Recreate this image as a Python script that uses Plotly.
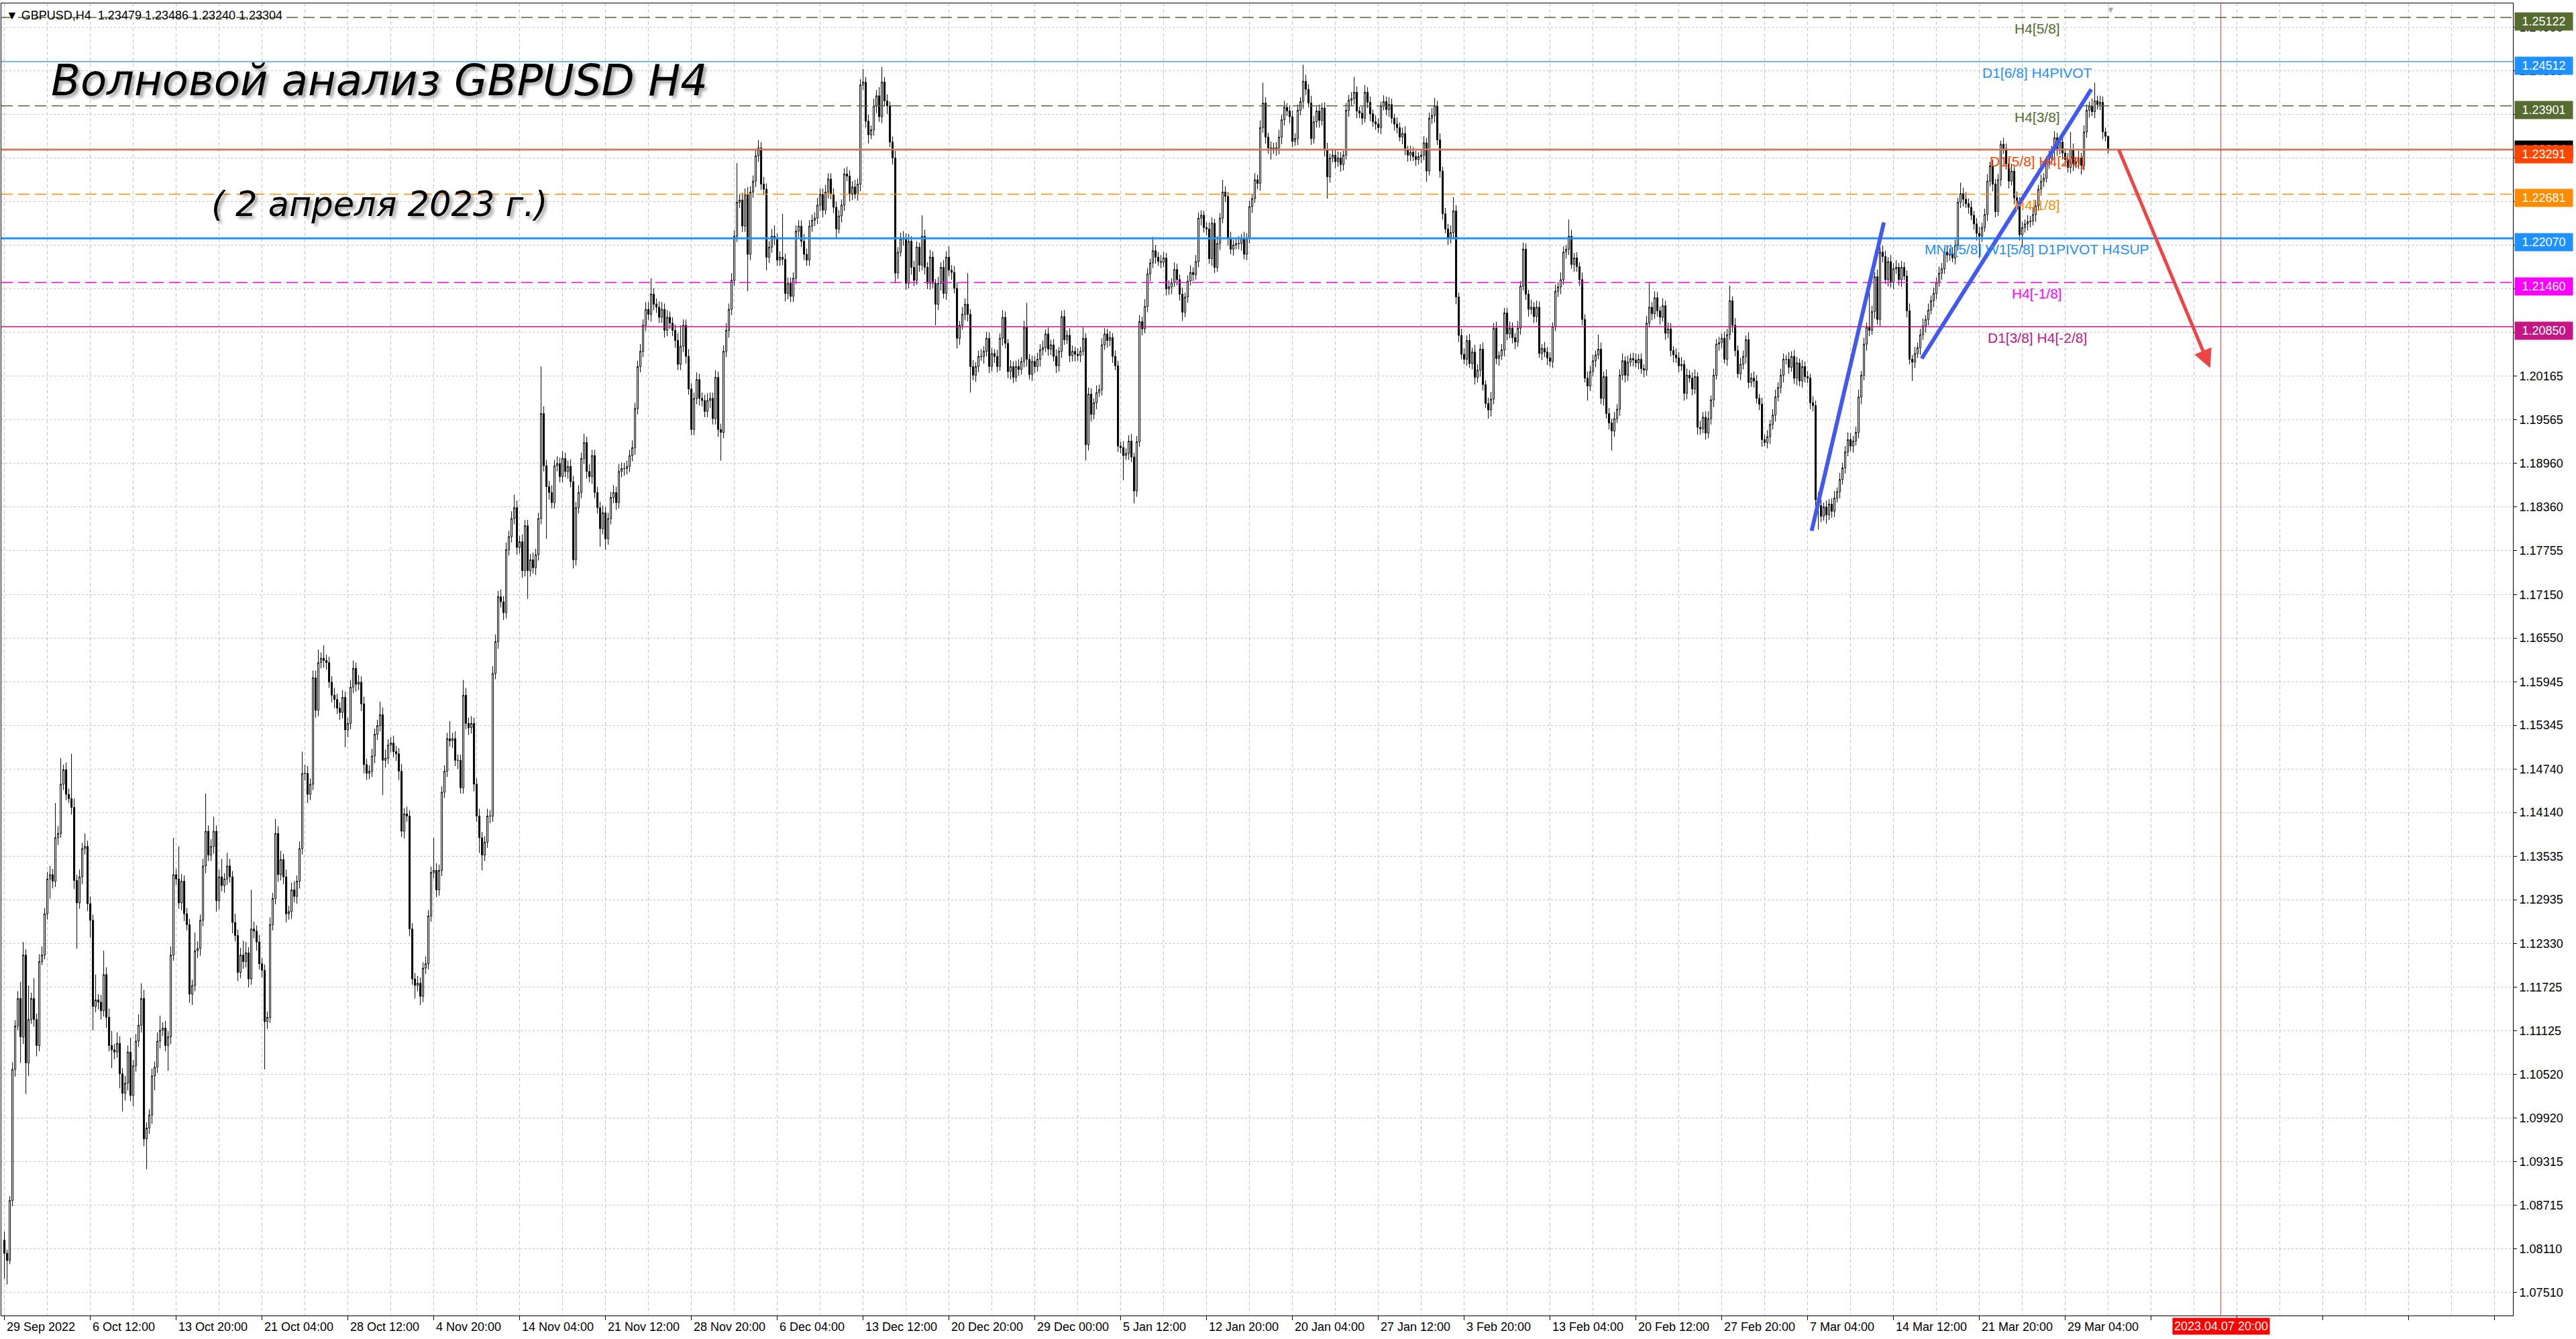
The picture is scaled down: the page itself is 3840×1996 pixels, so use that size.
import plotly.graph_objects as go

# ---------------- data (prices in 1e-4 units, H4 bars, index 0 = 29 Sep 2022 04:00) ----------------
FIRST_OPEN = 10823

CLOSE_A = [  # bars 0-191
    10805, 10795, 10878, 11059, 11119, 11157, 11104, 11217, 11068, 11128, 11157, 11128, 11092, 11208, 11217, 11274,
    11322, 11328, 11319, 11379, 11385, 11453, 11473, 11439, 11433, 11421, 11320, 11289, 11325, 11364, 11367, 11288,
    11265, 11146, 11155, 11152, 11140, 11190, 11131, 11092, 11086, 11083, 11095, 11053, 11026, 11040, 11083, 11023,
    11064, 11098, 11120, 11157, 10963, 10978, 10996, 11050, 11062, 11098, 11113, 11116, 11092, 11104, 11217, 11328,
    11322, 11289, 11319, 11274, 11259, 11163, 11175, 11223, 11226, 11265, 11340, 11388, 11355, 11367, 11388, 11292,
    11325, 11313, 11322, 11340, 11325, 11262, 11244, 11193, 11217, 11208, 11220, 11184, 11253, 11250, 11235, 11205,
    11196, 11125, 11131, 11259, 11295, 11385, 11328, 11349, 11325, 11274, 11277, 11307, 11298, 11319, 11364, 11468,
    11468, 11439, 11453, 11600, 11555, 11621, 11627, 11624, 11621, 11594, 11576, 11570, 11558, 11552, 11573, 11528,
    11537, 11587, 11613, 11591, 11594, 11564, 11480, 11468, 11471, 11492, 11522, 11534, 11549, 11486, 11489, 11507,
    11510, 11498, 11495, 11471, 11388, 11412, 11409, 11253, 11184, 11175, 11178, 11160, 11199, 11205, 11271, 11331,
    11334, 11307, 11334, 11442, 11471, 11516, 11513, 11516, 11486, 11486, 11448, 11576, 11537, 11531, 11537, 11453,
    11409, 11379, 11355, 11373, 11409, 11409, 11606, 11650, 11712, 11705, 11690, 11777, 11795, 11820, 11835, 11780,
]
CLOSE_B = [  # bars 192-383
    11788, 11748, 11810, 11748, 11763, 11752, 11770, 11820, 11965, 11893, 11864, 11856, 11842, 11893, 11896, 11878,
    11903, 11885, 11892, 11871, 11763, 11835, 11856, 11903, 11925, 11885, 11878, 11907, 11856, 11835, 11806, 11828,
    11792, 11820, 11849, 11856, 11842, 11885, 11889, 11889, 11892, 11907, 11918, 11972, 12030, 12051, 12087, 12109,
    12102, 12130, 12116, 12112, 12098, 12109, 12080, 12098, 12090, 12080, 12066, 12033, 12058, 12087, 12044, 11999,
    11943, 11986, 12012, 11986, 11983, 11968, 11983, 11986, 11958, 12015, 11943, 11939, 12051, 12080, 12109, 12149,
    12210, 12257, 12260, 12224, 12268, 12185, 12271, 12286, 12321, 12332, 12282, 12275, 12181, 12195, 12210, 12206,
    12177, 12181, 12178, 12131, 12145, 12127, 12152, 12217, 12224, 12203, 12185, 12177, 12224, 12232, 12235, 12253,
    12268, 12246, 12271, 12289, 12268, 12250, 12220, 12238, 12253, 12296, 12293, 12268, 12278, 12268, 12282, 12419,
    12423, 12369, 12350, 12357, 12390, 12404, 12375, 12423, 12397, 12390, 12340, 12318, 12159, 12188, 12206, 12206,
    12145, 12203, 12167, 12149, 12195, 12170, 12210, 12167, 12145, 12181, 12145, 12116, 12145, 12167, 12131, 12181,
    12163, 12160, 12138, 12069, 12087, 12102, 12116, 12102, 12030, 12018, 12030, 12044, 12044, 12051, 12069, 12030,
    12048, 12044, 12030, 12069, 12098, 12062, 12023, 12030, 12015, 12030, 12026, 12037, 12084, 12040, 12019, 12037,
]
CLOSE_C = [  # bars 384-591
    12030, 12040, 12053, 12056, 12075, 12054, 12060, 12044, 12031, 12051, 12099, 12067, 12073, 12045, 12051, 12047,
    12045, 12051, 12069, 11922, 11992, 11964, 11980, 11994, 11998, 12060, 12075, 12066, 12070, 12044, 12031, 11920,
    11918, 11907, 11910, 11927, 11905, 11858, 11926, 12092, 12082, 12113, 12158, 12173, 12190, 12181, 12175, 12174,
    12180, 12137, 12140, 12146, 12164, 12150, 12130, 12105, 12126, 12148, 12160, 12157, 12175, 12235, 12239, 12222,
    12220, 12179, 12228, 12167, 12200, 12235, 12271, 12265, 12207, 12192, 12198, 12200, 12200, 12207, 12185, 12207,
    12251, 12262, 12288, 12283, 12360, 12394, 12347, 12332, 12330, 12332, 12330, 12347, 12371, 12388, 12383, 12375,
    12341, 12345, 12384, 12396, 12424, 12413, 12394, 12345, 12368, 12383, 12370, 12387, 12329, 12292, 12318, 12322,
    12313, 12318, 12309, 12322, 12384, 12398, 12400, 12409, 12383, 12380, 12373, 12409, 12395, 12379, 12368, 12365,
    12360, 12390, 12396, 12385, 12392, 12373, 12365, 12360, 12347, 12352, 12329, 12322, 12326, 12320, 12316, 12320,
    12322, 12339, 12300, 12373, 12377, 12390, 12343, 12300, 12241, 12220, 12207, 12215, 12245, 12126, 12073, 12047,
    12040, 12066, 12034, 12050, 12015, 12025, 12054, 12005, 11979, 11970, 11985, 12083, 12041, 12045, 12053, 12104,
    12075, 12083, 12070, 12064, 12083, 12141, 12192, 12130, 12109, 12112, 12099, 12112, 12048, 12055, 12050, 12042,
    12037, 12085, 12134, 12140, 12150, 12188, 12192, 12210, 12171, 12180, 12168, 12150, 12095, 12014, 12003, 12023,
]
CLOSE_D = [  # bars 592-784
    12038, 12046, 12054, 11986, 12016, 11965, 11952, 11941, 11958, 11971, 12018, 12038, 12018, 12036, 12041, 12039,
    12035, 12040, 12027, 12025, 12090, 12112, 12103, 12125, 12107, 12098, 12114, 12076, 12082, 12052, 12046, 12042,
    12031, 12033, 11993, 12018, 12014, 11999, 12016, 11946, 11944, 11960, 11938, 11958, 11984, 12018, 12061, 12063,
    12069, 12040, 12074, 12121, 12087, 12052, 12020, 12033, 12044, 12067, 12008, 12014, 12010, 11986, 11978, 11929,
    11925, 11933, 11950, 11963, 11988, 12001, 12018, 12040, 12040, 12029, 12044, 12014, 12035, 12010, 12030, 12016,
    12014, 11980, 11976, 11846, 11838, 11823, 11836, 11825, 11840, 11830, 11848, 11857, 11874, 11890, 11912, 11929,
    11920, 11927, 11939, 11988, 12018, 12061, 12084, 12080, 12106, 12154, 12095, 12188, 12182, 12150, 12175, 12146,
    12165, 12167, 12150, 12167, 12155, 12107, 12040, 12036, 12048, 12056, 12074, 12086, 12095, 12108, 12121, 12131,
    12146, 12159, 12165, 12188, 12184, 12186, 12180, 12197, 12257, 12269, 12261, 12255, 12250, 12239, 12227, 12214,
    12210, 12222, 12240, 12286, 12307, 12282, 12244, 12288, 12337, 12331, 12310, 12286, 12300, 12263, 12257, 12212,
    12222, 12227, 12230, 12231, 12240, 12252, 12275, 12286, 12290, 12312, 12318, 12329, 12346, 12329, 12340, 12325,
    12316, 12305, 12330, 12310, 12312, 12318, 12308, 12354, 12384, 12390, 12382, 12397, 12392, 12395, 12354, 12348,
    12330,
]

# upper / lower shadows in pips
WICK_UP_A = [
    12, 5, 6, 10, 8, 10, 23, 18, 8, 47, 8, 28, 8, 10, 12, 8,
    10, 12, 8, 48, 10, 36, 7, 10, 8, 62, 12, 8, 10, 8, 18, 8,
    10, 8, 35, 8, 10, 33, 10, 12, 20, 8, 15, 10, 8, 10, 9, 20,
    8, 10, 15, 21, 12, 8, 8, 10, 8, 12, 20, 8, 10, 8, 12, 51,
    8, 45, 10, 8, 8, 8, 8, 25, 10, 8, 10, 52, 8, 10, 20, 8,
    10, 25, 8, 18, 10, 8, 12, 8, 10, 20, 15, 8, 54, 10, 8, 10,
    8, 8, 8, 10, 8, 20, 10, 12, 8, 10, 8, 10, 12, 8, 10, 30,
    12, 10, 8, 10, 10, 18, 8, 18, 8, 8, 8, 10, 8, 8, 10, 8,
    8, 10, 11, 8, 10, 8, 10, 8, 8, 10, 8, 8, 18, 10, 12, 8,
    8, 10, 8, 8, 10, 8, 10, 8, 8, 8, 10, 8, 8, 10, 8, 8,
    45, 10, 8, 8, 8, 8, 24, 8, 10, 8, 8, 21, 10, 8, 10, 8,
    8, 10, 8, 8, 10, 8, 10, 10, 8, 10, 8, 10, 8, 10, 18, 10,
]
WICK_DN_A = [
    35, 33, 5, 8, 10, 6, 36, 10, 43, 18, 6, 10, 15, 8, 5, 6,
    8, 27, 10, 8, 10, 6, 8, 8, 6, 10, 12, 63, 8, 10, 8, 10,
    24, 33, 8, 10, 12, 8, 15, 8, 25, 10, 8, 20, 25, 10, 10, 8,
    15, 8, 8, 10, 10, 42, 8, 12, 20, 8, 10, 8, 8, 35, 10, 8,
    8, 8, 10, 10, 8, 12, 15, 8, 10, 10, 8, 10, 8, 8, 10, 15,
    12, 8, 10, 8, 8, 15, 8, 12, 8, 10, 8, 12, 8, 10, 12, 8,
    10, 66, 10, 8, 8, 8, 10, 8, 10, 12, 8, 10, 8, 10, 10, 8,
    10, 12, 8, 8, 10, 8, 8, 10, 10, 8, 10, 12, 8, 10, 8, 24,
    10, 8, 8, 10, 8, 10, 12, 9, 8, 8, 10, 8, 8, 48, 10, 8,
    10, 8, 10, 12, 8, 10, 8, 10, 8, 18, 8, 12, 8, 8, 8, 8,
    8, 10, 8, 8, 8, 8, 8, 10, 8, 12, 8, 8, 8, 10, 8, 10,
    8, 21, 21, 8, 8, 10, 8, 8, 10, 8, 10, 8, 8, 8, 8, 10,
]
WICK_UP_B = [
    8, 10, 8, 8, 8, 10, 8, 8, 65, 10, 8, 8, 10, 8, 10, 8,
    10, 8, 8, 10, 8, 8, 10, 8, 12, 8, 10, 8, 8, 8, 8, 10,
    8, 8, 8, 10, 8, 10, 8, 8, 8, 8, 10, 8, 8, 10, 8, 10,
    10, 22, 8, 8, 8, 10, 8, 10, 8, 8, 8, 10, 29, 8, 8, 10,
    8, 8, 10, 8, 8, 8, 10, 8, 8, 10, 8, 8, 8, 10, 8, 10,
    8, 54, 8, 10, 8, 10, 8, 8, 10, 11, 8, 10, 8, 8, 10, 15,
    8, 8, 60, 8, 8, 8, 8, 8, 8, 8, 10, 8, 8, 8, 8, 10,
    8, 8, 10, 8, 8, 8, 8, 8, 8, 8, 10, 8, 8, 10, 8, 8,
    18, 7, 9, 6, 10, 8, 12, 21, 7, 9, 6, 8, 10, 7, 9, 11,
    8, 10, 7, 9, 8, 6, 29, 9, 7, 10, 8, 6, 9, 7, 10, 8,
    15, 7, 9, 8, 6, 10, 8, 43, 7, 9, 6, 8, 10, 7, 9, 8,
    8, 6, 9, 7, 10, 8, 6, 9, 7, 8, 10, 6, 9, 34, 7, 8,
]
WICK_DN_B = [
    8, 10, 8, 39, 8, 8, 10, 8, 8, 8, 72, 10, 8, 8, 8, 8,
    8, 8, 10, 8, 12, 8, 8, 8, 8, 10, 8, 10, 8, 8, 25, 8,
    15, 8, 8, 8, 10, 8, 8, 10, 8, 8, 8, 10, 8, 8, 8, 8,
    8, 10, 8, 8, 8, 8, 10, 8, 8, 8, 10, 8, 8, 8, 10, 8,
    8, 8, 8, 10, 8, 8, 8, 10, 8, 8, 10, 39, 8, 8, 10, 8,
    8, 8, 8, 8, 8, 51, 8, 8, 8, 8, 8, 8, 18, 8, 8, 8,
    8, 8, 8, 11, 8, 8, 8, 8, 8, 8, 8, 8, 8, 8, 8, 8,
    8, 10, 6, 9, 7, 8, 12, 6, 9, 8, 7, 10, 8, 6, 9, 10,
    7, 9, 12, 6, 8, 10, 7, 9, 8, 11, 7, 9, 14, 8, 6, 9,
    9, 7, 10, 8, 6, 9, 7, 10, 8, 9, 7, 29, 8, 10, 7, 9,
    8, 10, 7, 14, 9, 6, 8, 10, 36, 7, 9, 8, 6, 10, 7, 9,
    7, 9, 8, 6, 10, 7, 9, 11, 8, 6, 9, 7, 8, 10, 7, 9,
]
WICK_UP_C = [
    7, 9, 8, 10, 6, 9, 7, 8, 10, 6, 8, 9, 7, 10, 8, 6,
    8, 6, 15, 7, 9, 8, 6, 10, 7, 9, 8, 7, 9, 6, 8, 7,
    6, 9, 7, 8, 10, 6, 8, 9, 7, 10, 8, 6, 19, 8, 7, 9,
    8, 7, 9, 6, 10, 8, 7, 9, 6, 8, 10, 7, 9, 8, 7, 6,
    7, 9, 8, 6, 10, 7, 17, 8, 6, 9, 7, 8, 10, 6, 9, 7,
    8, 6, 9, 7, 10, 28, 8, 6, 9, 7, 8, 10, 7, 9, 6, 8,
    9, 7, 8, 6, 23, 9, 7, 10, 8, 6, 9, 7, 8, 10, 6, 9,
    7, 9, 8, 6, 10, 7, 9, 21, 8, 6, 9, 10, 7, 8, 6, 9,
    8, 6, 9, 7, 10, 8, 6, 9, 7, 8, 10, 6, 9, 7, 8, 6,
    6, 9, 7, 8, 10, 11, 7, 9, 6, 8, 7, 10, 19, 8, 6, 9,
    8, 7, 9, 6, 10, 8, 7, 9, 6, 8, 10, 7, 9, 6, 8, 7,
    7, 9, 8, 6, 10, 7, 9, 8, 6, 10, 7, 9, 8, 6, 9, 7,
    8, 6, 9, 7, 10, 8, 6, 23, 9, 7, 8, 6, 10, 7, 9, 8,
]
WICK_DN_C = [
    9, 7, 10, 8, 6, 9, 8, 7, 10, 8, 9, 7, 6, 9, 8, 10,
    7, 9, 6, 22, 8, 10, 7, 9, 6, 8, 7, 10, 8, 9, 6, 8,
    8, 34, 6, 9, 7, 17, 8, 7, 9, 6, 8, 10, 7, 9, 6, 8,
    7, 9, 8, 10, 6, 8, 9, 12, 7, 8, 6, 9, 7, 8, 10, 7,
    9, 7, 10, 8, 6, 9, 7, 8, 10, 7, 9, 6, 8, 10, 7, 8,
    7, 9, 6, 8, 10, 7, 9, 8, 14, 6, 9, 7, 10, 8, 7, 9,
    8, 6, 9, 7, 10, 8, 6, 9, 7, 8, 10, 7, 9, 30, 8, 6,
    9, 7, 10, 8, 6, 9, 7, 8, 10, 7, 9, 6, 8, 10, 7, 8,
    7, 9, 6, 8, 10, 7, 9, 8, 6, 10, 7, 9, 8, 6, 9, 7,
    9, 7, 15, 6, 8, 10, 7, 9, 8, 6, 9, 7, 8, 10, 9, 7,
    7, 9, 6, 8, 10, 7, 9, 8, 6, 12, 9, 7, 8, 10, 6, 9,
    9, 6, 8, 10, 7, 9, 6, 8, 10, 7, 9, 8, 6, 9, 7, 10,
    7, 9, 6, 8, 10, 7, 9, 8, 6, 10, 7, 9, 8, 6, 20, 7,
]
WICK_UP_D = [
    8, 6, 20, 9, 7, 10, 8, 6, 9, 7, 8, 10, 6, 9, 7, 8,
    9, 7, 8, 6, 10, 34, 7, 9, 8, 6, 10, 7, 9, 8, 6, 9,
    8, 10, 6, 9, 7, 8, 10, 6, 9, 7, 8, 10, 6, 9, 7, 8,
    7, 9, 8, 21, 6, 10, 7, 9, 8, 6, 10, 7, 9, 8, 6, 9,
    7, 9, 6, 8, 10, 7, 9, 8, 6, 10, 7, 9, 8, 6, 9, 7,
    8, 6, 9, 7, 10, 8, 6, 9, 7, 8, 10, 6, 9, 7, 8, 10,
    9, 7, 8, 10, 6, 9, 7, 49, 8, 6, 10, 7, 9, 8, 6, 9,
    8, 10, 6, 9, 7, 8, 10, 6, 9, 7, 8, 10, 6, 9, 7, 8,
    7, 9, 8, 6, 10, 7, 9, 8, 6, 15, 8, 10, 7, 9, 6, 8,
    9, 7, 8, 10, 6, 9, 7, 8, 5, 9, 7, 8, 10, 6, 9, 7,
    8, 6, 9, 7, 10, 8, 6, 9, 7, 8, 10, 6, 9, 7, 8, 10,
    7, 9, 24, 8, 6, 10, 7, 9, 8, 6, 10, 25, 7, 9, 8, 6,
    1,
]
WICK_DN_D = [
    7, 9, 6, 8, 10, 7, 9, 27, 8, 6, 9, 7, 10, 8, 6, 9,
    6, 9, 7, 10, 8, 6, 9, 7, 8, 10, 6, 9, 7, 8, 10, 7,
    9, 7, 10, 8, 6, 9, 7, 10, 8, 6, 9, 7, 8, 10, 6, 9,
    8, 6, 9, 7, 10, 8, 6, 9, 7, 10, 8, 6, 9, 7, 8, 10,
    5, 8, 10, 7, 9, 6, 8, 10, 7, 9, 6, 8, 10, 7, 9, 8,
    7, 9, 8, 10, 33, 8, 6, 12, 7, 9, 8, 6, 9, 7, 8, 6,
    7, 9, 6, 8, 10, 7, 9, 8, 6, 10, 7, 9, 8, 6, 9, 7,
    9, 7, 8, 10, 6, 9, 7, 26, 8, 6, 10, 7, 9, 8, 6, 9,
    8, 6, 9, 7, 10, 8, 6, 9, 7, 8, 10, 6, 9, 7, 8, 10,
    30, 8, 6, 9, 7, 10, 8, 6, 9, 7, 8, 10, 6, 9, 7, 8,
    17, 7, 9, 8, 6, 10, 7, 9, 8, 6, 9, 7, 10, 8, 6, 9,
    9, 7, 8, 10, 6, 9, 13, 7, 8, 10, 6, 9, 7, 8, 10, 7,
    6,
]

X_LABELS = ["29 Sep 2022", "6 Oct 12:00", "13 Oct 20:00", "21 Oct 04:00", "28 Oct 12:00",
            "4 Nov 20:00", "14 Nov 04:00", "21 Nov 12:00", "28 Nov 20:00", "6 Dec 04:00",
            "13 Dec 12:00", "20 Dec 20:00", "29 Dec 00:00", "5 Jan 12:00", "12 Jan 20:00",
            "20 Jan 04:00", "27 Jan 12:00", "3 Feb 20:00", "13 Feb 04:00", "20 Feb 12:00",
            "27 Feb 20:00", "7 Mar 04:00", "14 Mar 12:00", "21 Mar 20:00", "29 Mar 04:00"]
BARS_PER_LABEL = 32

PRICE_TICKS = [1.24990, 1.24385, 1.23785, 1.23180, 1.22575, 1.21975, 1.21370, 1.20770,
               1.20165, 1.19565, 1.18960, 1.18360, 1.17755, 1.17150, 1.16550, 1.15945,
               1.15345, 1.14740, 1.14140, 1.13535, 1.12935, 1.12330, 1.11725, 1.11125,
               1.10520, 1.09920, 1.09315, 1.08715, 1.08110, 1.07510]

LEVEL_PRICES = [1.25122, 1.24512, 1.23901, 1.23291, 1.22681, 1.22070, 1.21460, 1.20850]
LEVEL_NAMES = ["H4[5/8]", "D1[6/8] H4PIVOT", "H4[3/8]", "D1[5/8] H4[2/8]", "H4[1/8]",
               "MN1[5/8] W1[5/8] D1PIVOT H4SUP", "H4[-1/8]", "D1[3/8] H4[-2/8]"]
BID_PRICE = 1.23304
HEADER = "GBPUSD,H4\u00a0\u00a01.23479 1.23486 1.23240 1.23304"
FUTURE_BAR = 826            # 2023.04.07 20:00
FUTURE_LABEL = "2023.04.07 20:00"

# hand-drawn objects (bar index, price)
WAVE_LINES = [((673.5, 1.1803), (700.4, 1.2229)), ((714.5, 1.2041), (777.7, 1.2413))]
FORECAST_ARROW = ((787.8, 1.2331), (822.0, 1.2028))
TITLE = "Волновой анализ GBPUSD H4"
SUBTITLE = "( 2 апреля 2023 г.)"

# ---------------- styles ----------------
LEVEL_COLORS = ["#556B2F", "#1E90FF", "#556B2F", "#FF4500", "#FF8C00", "#1E90FF", "#FF00FF", "#C71585"]
LEVEL_DASH = ["17px,8px", "solid", "17px,8px", "solid", "17px,8px", "solid", "17px,8px", "solid"]
LEVEL_WIDTH = [1.4, 1.4, 1.4, 1.4, 1.4, 3.0, 1.4, 1.4]
FONT = "Arial, Liberation Sans, sans-serif"
GRID = "#C4C4C4"

# ---------------- build OHLC ----------------
closes_raw = CLOSE_A + CLOSE_B + CLOSE_C + CLOSE_D
up_raw = WICK_UP_A + WICK_UP_B + WICK_UP_C + WICK_UP_D
dn_raw = WICK_DN_A + WICK_DN_B + WICK_DN_C + WICK_DN_D
n = min(len(closes_raw), len(up_raw), len(dn_raw))

opens, highs, lows, closes = [], [], [], []
prev = FIRST_OPEN
for i in range(n):
    o, c = prev, closes_raw[i]
    opens.append(o / 1e4)
    closes.append(c / 1e4)
    highs.append((max(o, c) + up_raw[i]) / 1e4)
    lows.append((min(o, c) - dn_raw[i]) / 1e4)
    prev = c
bars = list(range(n))

fig = go.Figure()
fig.add_trace(go.Candlestick(
    x=bars, open=opens, high=highs, low=lows, close=closes,
    increasing=dict(line=dict(color="black", width=1), fillcolor="white"),
    decreasing=dict(line=dict(color="black", width=1), fillcolor="black"),
    whiskerwidth=0, hoverinfo="skip", showlegend=False,
))

shapes = []
# bid line
shapes.append(dict(type="line", xref="paper", x0=0, x1=1, yref="y", y0=BID_PRICE, y1=BID_PRICE,
                   line=dict(color="#A0A0A0", width=1.4)))
for p, col, dash, w in zip(LEVEL_PRICES, LEVEL_COLORS, LEVEL_DASH, LEVEL_WIDTH):
    shapes.append(dict(type="line", xref="paper", x0=0, x1=1, yref="y", y0=p, y1=p,
                       line=dict(color=col, width=w, dash=dash)))
# future time line
shapes.append(dict(type="line", xref="x", x0=FUTURE_BAR, x1=FUTURE_BAR, yref="paper", y0=0, y1=1,
                   line=dict(color="#D04040", width=1)))
# wave lines
for (a, b) in WAVE_LINES:
    shapes.append(dict(type="line", xref="x", yref="y", x0=a[0], y0=a[1], x1=b[0], y1=b[1],
                       line=dict(color="#4159EE", width=6)))

ann = []
# price boxes on the axis (drawn slightly below their lines, as in the terminal)
ann.append(dict(xref="paper", x=1, xanchor="left", xshift=2, yref="y", y=BID_PRICE, yshift=-1,
                text=f"{BID_PRICE:.5f}", showarrow=False, bgcolor="black", width=84, height=24,
                font=dict(family=FONT, size=18, color="white")))
for p, col in zip(LEVEL_PRICES, LEVEL_COLORS):
    ann.append(dict(xref="paper", x=1, xanchor="left", xshift=2, yref="y", y=p, yshift=-6,
                    text=f"{p:.5f}", showarrow=False, bgcolor=col, width=84, height=24,
                    font=dict(family=FONT, size=18, color="white")))
# level names
for p, name, col in zip(LEVEL_PRICES, LEVEL_NAMES, LEVEL_COLORS):
    ann.append(dict(xref="x", x=757.5, yref="y", y=p, yanchor="top", yshift=-3, xanchor="center",
                    text=name, showarrow=False, font=dict(family=FONT, size=21, color=col)))
# time labels
for k, lab in enumerate(X_LABELS):
    ann.append(dict(xref="x", x=k * BARS_PER_LABEL, xanchor="left", xshift=1, yref="paper", y=0,
                    yanchor="top", yshift=-5, text=lab, showarrow=False,
                    font=dict(family=FONT, size=18, color="black")))
ann.append(dict(xref="x", x=FUTURE_BAR, xanchor="center", yref="paper", y=0, yanchor="top", yshift=-3,
                text=FUTURE_LABEL, showarrow=False, bgcolor="#FF0000", borderpad=2,
                font=dict(family=FONT, size=18, color="white")))
# header
ann.append(dict(xref="paper", x=0, xanchor="left", xshift=5, yref="paper", y=1, yanchor="top", yshift=-6,
                text="\u25bc " + HEADER, showarrow=False, font=dict(family=FONT, size=18, color="black")))
ann.append(dict(xref="x", x=785, xanchor="center", yref="paper", y=1, yanchor="top", yshift=0,
                text="\u25bc", showarrow=False, font=dict(family=FONT, size=13, color="#A8A8A8")))
# titles
ann.append(dict(xref="x", x=139.6, yref="y", y=1.2425, text=TITLE, showarrow=False,
                font=dict(family="DejaVu Sans, sans-serif", size=64, color="black", style="italic",
                          shadow="4px 4px 4px rgba(0,0,0,0.35)")))
ann.append(dict(xref="x", x=139.9, yref="y", y=1.2254, text=SUBTITLE, showarrow=False,
                font=dict(family="DejaVu Sans, sans-serif", size=51, color="black", style="italic",
                          shadow="4px 4px 4px rgba(0,0,0,0.35)")))
# forecast arrow
(a0, a1) = FORECAST_ARROW
ann.append(dict(xref="x", yref="y", x=a1[0], y=a1[1], axref="x", ayref="y", ax=a0[0], ay=a0[1],
                text="", showarrow=True, arrowhead=2, arrowsize=1.1, arrowwidth=5,
                arrowcolor="#EE4444", standoff=0, startstandoff=0))

fig.update_layout(
    width=3840, height=1996, autosize=False,
    margin=dict(l=2, r=94, t=5, b=35),
    paper_bgcolor="white", plot_bgcolor="white",
    shapes=shapes, annotations=ann, boxgap=0.28,
    showlegend=False,
    xaxis=dict(range=[-1.15, 934.85], rangeslider=dict(visible=False),
               tickmode="linear", tick0=0, dtick=BARS_PER_LABEL, showticklabels=False,
               ticks="outside", ticklen=6, tickcolor="black",
               showgrid=True, gridcolor=GRID, griddash="5px,4px", gridwidth=1,
               minor=dict(tickmode="linear", tick0=BARS_PER_LABEL // 2, dtick=BARS_PER_LABEL,
                          showgrid=True, gridcolor=GRID, griddash="5px,4px", ticklen=0),
               showline=True, linecolor="black", linewidth=1, mirror=True, zeroline=False),
    yaxis=dict(range=[1.07190, 1.25317], side="right", tickmode="array",
               tickvals=PRICE_TICKS, ticktext=[f"{v:.5f}" for v in PRICE_TICKS],
               ticks="outside", ticklen=5, tickcolor="black",
               tickfont=dict(family=FONT, size=18, color="black"),
               showgrid=True, gridcolor=GRID, griddash="3px,3px", gridwidth=1,
               showline=True, linecolor="black", linewidth=1, mirror=True, zeroline=False),
)

fig.write_html("out.html", include_plotlyjs=True, config={"displayModeBar": False},
               post_script="document.body.style.margin='0';document.body.style.overflow='hidden';")
